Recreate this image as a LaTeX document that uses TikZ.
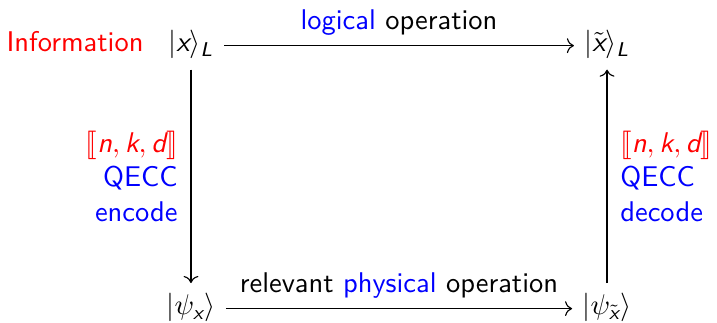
\documentclass[tikz,border=0pt]{standalone}
\usepackage{amsmath,stmaryrd}
\usetikzlibrary{arrows.meta,positioning}
\renewcommand{\familydefault}{\sfdefault}
% sans italic letters in math
\newcommand{\sv}[1]{\text{\sffamily\itshape #1}}

\begin{document}
\begin{tikzpicture}[
  >=To,
  state/.style={anchor=base, inner sep=3.5pt},
  side/.style={align=#1, inner sep=4.5pt, text=blue},
  arr/.style={->},
]
\useasboundingbox (0,0) rectangle (8.842,3.983);

% ===== States =====
\node[state] (xL) at (2.355, 3.342) {$|\sv{x}\rangle_{\sv{L}}$};
\node[state] (xtL) at (7.486, 3.342) {$|\tilde{\sv{x}}\rangle_{\sv{L}}$};
\node[state] (psix) at (2.355, 0.099) {$|\psi_{\sv{x}}\rangle$};
\node[state] (psixt) at (7.486, 0.099) {$|\psi_{\tilde{\sv{x}}}\rangle$};

\node[anchor=base east, text=red] (info) at ([xshift=-1.5pt]xL.base west) {Information};

% ===== Operations =====
\draw[arr] (xL.mid east) -- (xtL.mid west)
  node[midway, above] (logop) {\textcolor{blue}{logical} operation};
\draw[arr] (psix.mid east) -- (psixt.mid west)
  node[midway, above] (physop) {relevant \textcolor{blue}{physical} operation};

% ===== Encode / decode =====
\draw[arr] (psix |- xL.south) -- (psix.north)
  node[midway, left, side=right] (enc) {\textcolor{red}{$\llbracket \sv{n},\sv{k},\sv{d}\rrbracket$}\\QECC\\encode};
\draw[arr] (psixt.north) -- (psixt |- xtL.south)
  node[midway, right, side=left] (dec) {\textcolor{red}{$\llbracket \sv{n},\sv{k},\sv{d}\rrbracket$}\\QECC\\decode};

\end{tikzpicture}
\end{document}
